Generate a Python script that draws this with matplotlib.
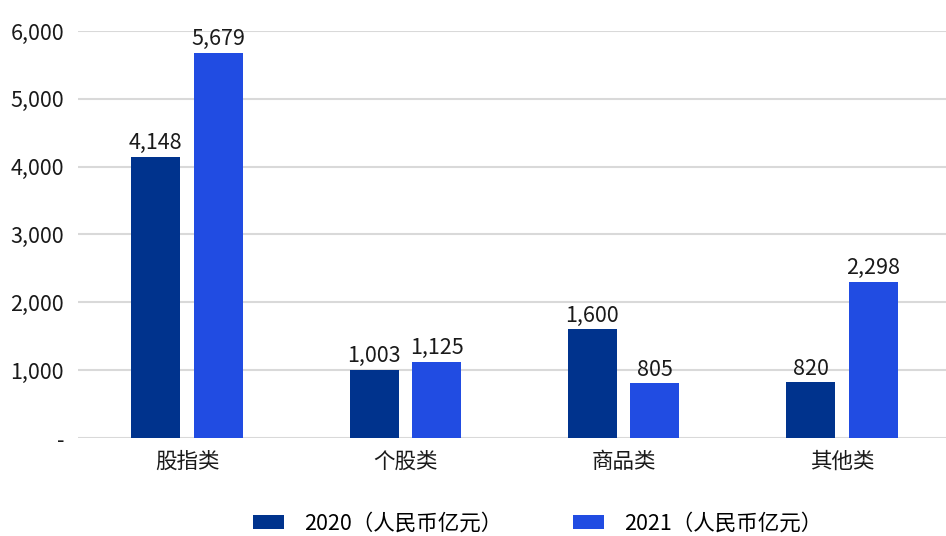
import matplotlib
matplotlib.use("Agg")
import matplotlib.pyplot as plt
import numpy as np
from matplotlib.ticker import FixedLocator

plt.rcParams['font.family'] = ['Noto Sans CJK SC', 'DejaVu Sans']

categories = ['股指类', '个股类', '商品类', '其他类']
series_names = ['2020（人民币亿元）', '2021（人民币亿元）']
values_2020 = [4148, 1003, 1600, 820]
values_2021 = [5679, 1125, 805, 2298]
y_ticks = [0, 1000, 2000, 3000, 4000, 5000, 6000]
y_tick_labels = ['-', '1,000', '2,000', '3,000', '4,000', '5,000', '6,000']
colors = ['#00338D', '#214CE2']

fig = plt.figure(figsize=(9.46, 5.36), dpi=100)
ax = fig.add_axes([78/946, 1-438/536, 873/946, (438-31)/536])

x = np.arange(len(categories))
w = 0.225
off = 0.143
fs = 15.5
for vals, name, c, d in [(values_2020, series_names[0], colors[0], -off),
                         (values_2021, series_names[1], colors[1], off)]:
    bars = ax.bar(x + d, vals, width=w, color=c, label=name, zorder=3)
    for b, v in zip(bars, vals):
        ax.text(b.get_x() + b.get_width()/2, v + 40, f'{v:,}', ha='center', va='bottom',
                fontsize=fs, color='#1a1a1a', zorder=4)

ax.set_xlim(-0.5, 3.5)
ax.set_ylim(0, 6000)
ax.yaxis.set_major_locator(FixedLocator(y_ticks))
ax.set_yticklabels(y_tick_labels)
ax.set_xticks(x)
ax.set_xticklabels(categories)
ax.tick_params(axis='both', length=0, labelsize=fs, colors='#1a1a1a')
ax.tick_params(axis='y', pad=10)
ax.tick_params(axis='x', pad=9)
for s in ax.spines.values():
    s.set_visible(False)
ax.grid(axis='y', color='#d9d9d9', linewidth=1.5, zorder=0)
ax.set_axisbelow(True)

leg = fig.legend(loc='lower center', bbox_to_anchor=(0.5685, -0.033), ncol=2, frameon=False,
                 fontsize=fs, handlelength=1.44, handleheight=0.65, handletextpad=0.93,
                 columnspacing=3.3)

fig.savefig('out.png', dpi=100)
